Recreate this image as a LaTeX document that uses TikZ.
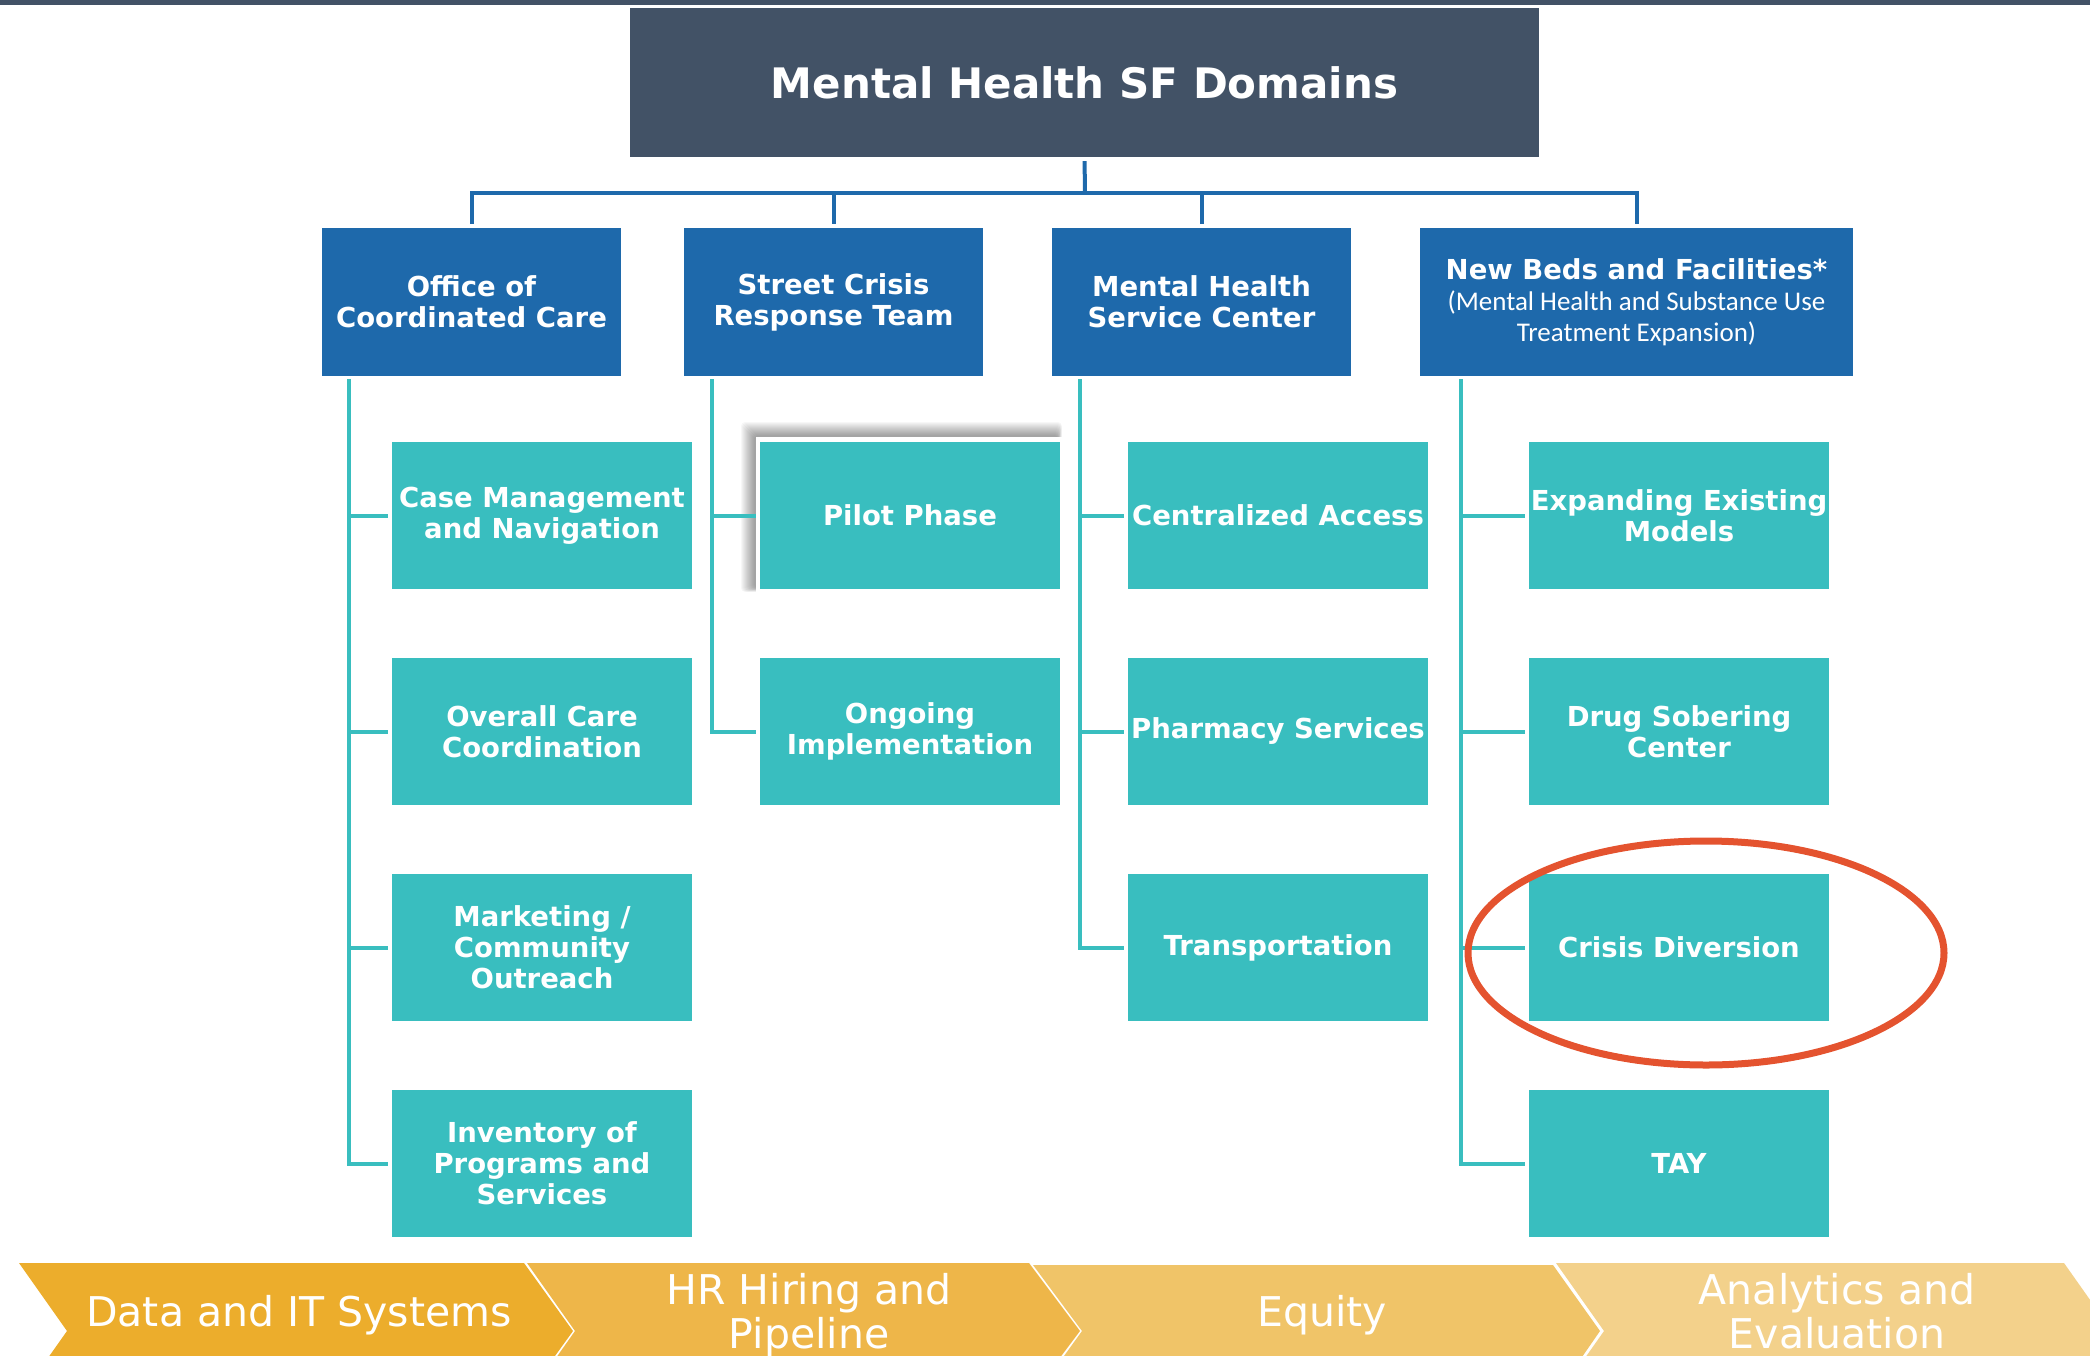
\documentclass[tikz,border=0pt]{standalone}
\usepackage{fontspec}
\setmainfont{DejaVu Sans}
\newfontfamily\subfont{Carlito}
\definecolor{slate}{HTML}{425266}
\definecolor{lblue}{HTML}{1E69AB}
\definecolor{tealc}{HTML}{39BEBF}
\definecolor{ringred}{HTML}{E4532F}
\definecolor{chA}{HTML}{ECAD2C}
\definecolor{chB}{HTML}{EEB649}
\definecolor{chC}{HTML}{F0C468}
\definecolor{chD}{HTML}{F3D18B}
\begin{document}
\begin{tikzpicture}[x=1pt,y=-1pt,
  titlebox/.style={fill=slate,text=white,minimum width=909pt,minimum height=149pt,inner sep=0pt,font={\fontsize{42}{50}\selectfont\bfseries}},
  lonebox/.style={fill=lblue,text=white,minimum height=148pt,inner sep=0pt,align=center,font={\fontsize{27.5}{31}\selectfont\bfseries}},
  childbox/.style={fill=tealc,text=white,minimum width=300pt,minimum height=147pt,inner sep=0pt,align=center,font={\fontsize{27.5}{31}\selectfont\bfseries}},
  bline/.style={draw=lblue,line width=4pt},
  tline/.style={draw=tealc,line width=4pt,shorten >=4pt},
  chev/.style={text=white,align=center,font={\fontsize{41}{44}\selectfont}},
]
\useasboundingbox (0,0) rectangle (2090,1356);
\clip (0,0) rectangle (2090,1356);
\fill[slate] (0,0) rectangle (2090,5);

% title
\node[titlebox] (title) at (1084.5,82.5) {Mental Health SF Domains};

% level one
\node[lonebox,minimum width=299pt] (occ) at (471.5,302) {Office of\\Coordinated Care};
\node[lonebox,minimum width=299pt] (scrt) at (833.5,302) {Street Crisis\\Response Team};
\node[lonebox,minimum width=299pt] (mhsc) at (1201.5,302) {Mental Health\\Service Center};
\node[lonebox,minimum width=433pt] (nbf) at (1636.5,302) {New Beds and Facilities*\\{\subfont\mdseries\fontsize{27}{32}\selectfont (Mental Health and Substance Use}\\{\subfont\mdseries\fontsize{27}{32}\selectfont Treatment Expansion)}};

% blue connectors
\coordinate (hub) at (1085,193);
\draw[bline,shorten <=4pt] (title.south) -- (hub);
\foreach \n in {occ,scrt,mhsc,nbf}{
  \draw[bline,shorten >=4pt] (hub) -| (\n.north);
}

% pilot phase shadow and white frame
\foreach \k in {0,...,13}{
  \fill[black,opacity=0.03,rounded corners=4pt] (754-\k,435-\k) rectangle (1058+0.3*\k,588+0.3*\k);
}
\fill[white] (756,437) rectangle (1064,592);

% children
\node[childbox] (cm) at (542,515.5) {Case Management\\and Navigation};
\node[childbox] (occo) at (542,731.5) {Overall Care\\Coordination};
\node[childbox] (mco) at (542,947.5) {Marketing /\\Community\\Outreach};
\node[childbox] (inv) at (542,1163.5) {Inventory of\\Programs and\\Services};

\node[childbox] (pilot) at (910,515.5) {Pilot Phase};
\node[childbox] (ongo) at (910,731.5) {Ongoing\\Implementation};

\node[childbox] (cent) at (1278,515.5) {Centralized Access};
\node[childbox] (pharm) at (1278,731.5) {Pharmacy Services};
\node[childbox] (trans) at (1278,947.5) {Transportation};

\node[childbox] (expand) at (1679,515.5) {Expanding Existing\\Models};
\node[childbox] (drug) at (1679,731.5) {Drug Sobering\\Center};
\node[childbox] (crisis) at (1679,947.5) {Crisis Diversion};
\node[childbox] (tay) at (1679,1163.5) {TAY};

% teal trunks
\coordinate (ta) at (349,379);
\coordinate (tb) at (712,379);
\coordinate (tc) at (1080,379);
\coordinate (td) at (1461,379);
\foreach \c in {cm,occo,mco,inv}{\draw[tline] (ta) |- (\c.west);}
\foreach \c in {pilot,ongo}{\draw[tline] (tb) |- (\c.west);}
\foreach \c in {cent,pharm,trans}{\draw[tline] (tc) |- (\c.west);}
\foreach \c in {expand,drug,crisis,tay}{\draw[tline] (td) |- (\c.west);}

% highlight ring
\draw[ringred,line width=7pt] (1706,953) ellipse [x radius=238pt,y radius=112pt];

% chevrons
\fill[chA] (19,1263) -- (524,1263) -- (573,1331) -- (524,1399) -- (19,1399) -- (67,1331) -- cycle;
\fill[chB] (527,1263) -- (1029,1263) -- (1080,1331) -- (1029,1399) -- (527,1399) -- (575,1331) -- cycle;
\fill[chC] (1033,1265) -- (1553,1265) -- (1600,1331) -- (1553,1399) -- (1033,1399) -- (1082,1331) -- cycle;
\fill[chD] (1556,1263) -- (2064,1263) -- (2112,1331) -- (2064,1399) -- (1556,1399) -- (1604,1331) -- cycle;
\node[chev] (c1) at (299,1315) {Data and IT Systems};
\node[chev] (c2) at (809,1315) {HR Hiring and\\Pipeline};
\node[chev] (c3) at (1322,1315) {Equity};
\node[chev] (c4) at (1837,1311) {Analytics and\\Evaluation};
\end{tikzpicture}
\end{document}
